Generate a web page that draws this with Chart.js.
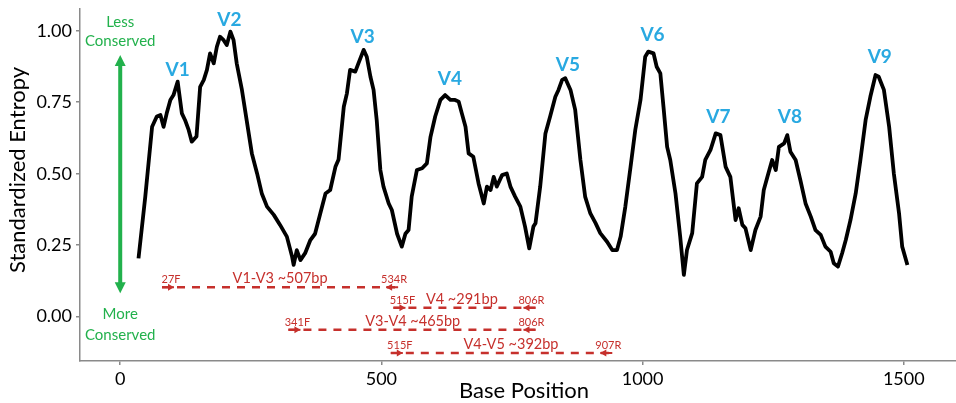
<!DOCTYPE html>
<html>
<head>
<meta charset="utf-8">
<script src="https://cdn.jsdelivr.net/npm/chart.js@4.4.0/dist/chart.umd.min.js"></script>
<style>
  html, body { margin: 0; padding: 0; background: #fff; }
  #wrap { width: 956px; height: 403px; }
</style>
</head>
<body>
<div id="wrap"><canvas id="entropyChart" width="956" height="403"></canvas></div>
<script>
// Standardized entropy along the 16S gene
const basePosition = [
  35, 48, 61, 70, 77, 83, 89, 96, 102, 110, 118, 124, 131, 137, 146, 153, 160, 166, 172, 179,
  185, 191, 198, 204, 211, 217, 223, 233, 243, 252, 262, 271, 281, 294, 306, 319, 329, 332, 338, 345,
  354, 364, 373, 383, 393, 402, 412, 418, 428, 434, 440, 450, 456, 466, 472, 479, 485, 491, 498, 504,
  514, 520, 530, 539, 546, 552, 558, 568, 578, 587, 594, 603, 613, 622, 632, 641, 648, 654, 661, 667,
  676, 686, 696, 702, 709, 715, 721, 731, 740, 747, 756, 766, 775, 783, 791, 795, 804, 814, 823, 833,
  839, 846, 852, 862, 871, 881, 890, 900, 910, 919, 932, 942, 951, 958, 967, 977, 986, 996, 1005, 1011,
  1021, 1027, 1034, 1040, 1047, 1053, 1063, 1072, 1079, 1085, 1095, 1104, 1114, 1120, 1130, 1140, 1149, 1159, 1168, 1178,
  1184, 1191, 1197, 1207, 1216, 1226, 1232, 1239, 1248, 1255, 1261, 1271, 1277, 1283, 1293, 1302, 1312, 1322, 1331, 1341,
  1350, 1360, 1366, 1374, 1382, 1389, 1398, 1408, 1417, 1427, 1436, 1446, 1452, 1462, 1472, 1481, 1491, 1497, 1507
];
const entropy = [
  0.204, 0.42, 0.664, 0.70, 0.705, 0.664, 0.711, 0.758, 0.775, 0.822, 0.711, 0.688, 0.653, 0.612, 0.63, 0.804, 0.828, 0.863, 0.921, 0.886,
  0.944, 0.979, 0.967, 0.95, 0.997, 0.967, 0.886, 0.793, 0.676, 0.571, 0.501, 0.431, 0.385, 0.356, 0.321, 0.28, 0.21, 0.181, 0.233, 0.198,
  0.222, 0.268, 0.29, 0.361, 0.431, 0.443, 0.524, 0.55, 0.734, 0.781, 0.863, 0.857, 0.886, 0.933, 0.909, 0.839, 0.793, 0.688, 0.513, 0.455,
  0.396, 0.373, 0.29, 0.245, 0.29, 0.303, 0.42, 0.513, 0.519, 0.536, 0.629, 0.70, 0.758, 0.775, 0.758, 0.758, 0.752, 0.711, 0.664, 0.571,
  0.559, 0.466, 0.396, 0.455, 0.443, 0.489, 0.455, 0.495, 0.501, 0.455, 0.42, 0.385, 0.315, 0.239, 0.315, 0.327, 0.455, 0.641, 0.70, 0.769,
  0.793, 0.828, 0.834, 0.793, 0.723, 0.548, 0.42, 0.361, 0.327, 0.292, 0.262, 0.233, 0.233, 0.28, 0.385, 0.524, 0.653, 0.758, 0.909, 0.927,
  0.921, 0.874, 0.851, 0.734, 0.594, 0.548, 0.431, 0.28, 0.146, 0.233, 0.292, 0.466, 0.489, 0.548, 0.583, 0.641, 0.635, 0.524, 0.489, 0.338,
  0.379, 0.321, 0.309, 0.233, 0.303, 0.35, 0.443, 0.489, 0.548, 0.513, 0.594, 0.606, 0.635, 0.577, 0.548, 0.478, 0.396, 0.35, 0.303, 0.286,
  0.245, 0.227, 0.187, 0.175, 0.222, 0.268, 0.338, 0.431, 0.548, 0.688, 0.769, 0.845, 0.839, 0.793, 0.664, 0.501, 0.361, 0.245, 0.181
];

const xTicks = [0, 500, 1000, 1500];
const yTicks = [0, 0.25, 0.5, 0.75, 1];

// variable regions
const regionNames = ['V1', 'V2', 'V3', 'V4', 'V5', 'V6', 'V7', 'V8', 'V9'];
const regionX = [110, 209, 464, 631, 857, 1019, 1145, 1282, 1454];
const regionY = [0.864, 1.037, 0.979, 0.831, 0.88, 0.985, 0.697, 0.697, 0.907];

// primer pairs / amplicons
const ampliconNames = ['V1-V3 ~507bp', 'V4 ~291bp', 'V3-V4 ~465bp', 'V4-V5 ~392bp'];
const forwardPrimers = ['27F', '515F', '341F', '515F'];
const reversePrimers = ['534R', '806R', '806R', '907R'];
const ampliconStart = [80, 523, 322, 518];
const ampliconEnd = [532, 795, 795, 942];
const ampliconLevel = [0.103, 0.031, -0.046, -0.127];
const ampliconLabelX = [306, 654, 560, 748];

// conservation arrow
const conservedArrowX = 0;
const conservedArrowEnds = [0.915, 0.082];
const lessLabel = ['Less', 'Conserved'];
const lessLabelY = [1.013, 0.947];
const moreLabel = ['More', 'Conserved'];
const moreLabelY = [-0.008, -0.081];

const RED = '#c6302c';
const GREEN = '#22b14c';
const BLUE = '#29a9e1';
const FONT = 'Lato';

function drawArrowHead(ctx, x, y, dir, len, half) {
    // dir: 'left' | 'right' | 'up' | 'down'
    ctx.beginPath();
    if (dir === 'right') { ctx.moveTo(x, y); ctx.lineTo(x - len, y - half); ctx.lineTo(x - len, y + half); }
    if (dir === 'left') { ctx.moveTo(x, y); ctx.lineTo(x + len, y - half); ctx.lineTo(x + len, y + half); }
    if (dir === 'up') { ctx.moveTo(x, y); ctx.lineTo(x - half, y + len); ctx.lineTo(x + half, y + len); }
    if (dir === 'down') { ctx.moveTo(x, y); ctx.lineTo(x - half, y - len); ctx.lineTo(x + half, y - len); }
    ctx.closePath();
    ctx.fill();
}

function drawPrimerArrow(ctx, xTail, y, dir) {
    const len = 12;
    const xHead = dir === 'right' ? xTail + len : xTail - len;
    ctx.strokeStyle = RED;
    ctx.fillStyle = RED;
    ctx.lineWidth = 2;
    ctx.setLineDash([]);
    ctx.beginPath();
    ctx.moveTo(xTail, y);
    ctx.lineTo(xHead, y);
    ctx.stroke();
    drawArrowHead(ctx, xHead, y, dir, 6, 3.5);
    return (xTail + xHead) / 2;
}

const annotationPlugin = {
    id: 'entropyAnnotations',
    afterDatasetsDraw(chart) {
        const { ctx, scales: { x, y } } = chart;
        ctx.save();

        // V labels
        ctx.fillStyle = BLUE;
        ctx.font = 'bold 19px ' + FONT;
        ctx.textAlign = 'center';
        ctx.textBaseline = 'middle';
        regionNames.forEach((name, i) => {
            ctx.fillText(name, x.getPixelForValue(regionX[i]), y.getPixelForValue(regionY[i]));
        });

        // primer arrows and labels
        ctx.textBaseline = 'alphabetic';
        ampliconNames.forEach((name, i) => {
            const py = y.getPixelForValue(ampliconLevel[i]);
            const fx = drawPrimerArrow(ctx, x.getPixelForValue(ampliconStart[i]), py, 'right');
            const rx = drawPrimerArrow(ctx, x.getPixelForValue(ampliconEnd[i]), py, 'left');
            ctx.fillStyle = RED;
            ctx.font = '11px ' + FONT;
            ctx.fillText(forwardPrimers[i], fx + 3, py - 4);
            ctx.fillText(reversePrimers[i], rx + 2, py - 4);
            ctx.font = '14.5px ' + FONT;
            ctx.fillText(name, x.getPixelForValue(ampliconLabelX[i]), py - 4);
        });

        // green conservation arrow
        const ax = x.getPixelForValue(conservedArrowX);
        const top = y.getPixelForValue(conservedArrowEnds[0]);
        const bottom = y.getPixelForValue(conservedArrowEnds[1]);
        ctx.strokeStyle = GREEN;
        ctx.fillStyle = GREEN;
        ctx.lineWidth = 4;
        ctx.beginPath();
        ctx.moveTo(ax, top + 8);
        ctx.lineTo(ax, bottom - 8);
        ctx.stroke();
        drawArrowHead(ctx, ax, top, 'up', 11, 5.5);
        drawArrowHead(ctx, ax, bottom, 'down', 11, 5.5);
        ctx.font = '15px ' + FONT;
        lessLabel.forEach((t, i) => ctx.fillText(t, ax, y.getPixelForValue(lessLabelY[i])));
        moreLabel.forEach((t, i) => ctx.fillText(t, ax, y.getPixelForValue(moreLabelY[i])));

        // axis titles
        ctx.fillStyle = '#000';
        ctx.font = '22px ' + FONT;
        ctx.fillText('Base Position', 524, 398);
        ctx.translate(18, 170);
        ctx.rotate(-Math.PI / 2);
        ctx.textBaseline = 'middle';
        ctx.fillText('Standardized Entropy', 0, 0);

        ctx.restore();
    }
};

const datasets = [{
    data: basePosition.map((p, i) => ({ x: p, y: entropy[i] })),
    borderColor: '#000',
    borderWidth: 3.8,
    borderJoinStyle: 'round',
    pointRadius: 0,
    tension: 0
}];

ampliconNames.forEach((name, i) => {
    datasets.push({
        data: [{ x: ampliconStart[i], y: ampliconLevel[i] }, { x: ampliconEnd[i], y: ampliconLevel[i] }],
        borderColor: RED,
        borderWidth: 2.5,
        borderDash: [8, 7],
        pointRadius: 0
    });
});

const axisColor = '#8a8a8a';

new Chart(document.getElementById('entropyChart'), {
    type: 'line',
    data: { datasets },
    options: {
        responsive: false,
        animation: false,
        layout: { padding: { top: 9, right: 0, left: 0, bottom: 0 } },
        plugins: { legend: { display: false }, tooltip: { enabled: false } },
        scales: {
            x: {
                type: 'linear',
                min: -77,
                max: 1600,
                afterBuildTicks: (scale) => { scale.ticks = xTicks.map(v => ({ value: v })); },
                afterFit: (scale) => {
                    scale.height = 42;
                    scale.paddingLeft = 0;
                    scale.paddingRight = 0;
                },
                ticks: { font: { family: FONT, size: 18 }, color: '#000', padding: 3, maxRotation: 0, callback: v => String(v) },
                grid: { drawOnChartArea: false, drawTicks: true, tickLength: 4, color: axisColor, lineWidth: 1.5 },
                border: { color: axisColor, width: 1.5 }
            },
            y: {
                min: -0.155,
                max: 1.076,
                afterBuildTicks: (scale) => { scale.ticks = yTicks.map(v => ({ value: v })); },
                afterFit: (scale) => {
                    scale.width = 80;
                    scale.paddingTop = 0;
                    scale.paddingBottom = 0;
                },
                ticks: { font: { family: FONT, size: 18 }, color: '#000', padding: 4, callback: v => v.toFixed(2) },
                grid: { drawOnChartArea: false, drawTicks: true, tickLength: 4, color: axisColor, lineWidth: 1.5 },
                border: { color: axisColor, width: 1.5 }
            }
        }
    },
    plugins: [annotationPlugin]
});
</script>
</body>
</html>
